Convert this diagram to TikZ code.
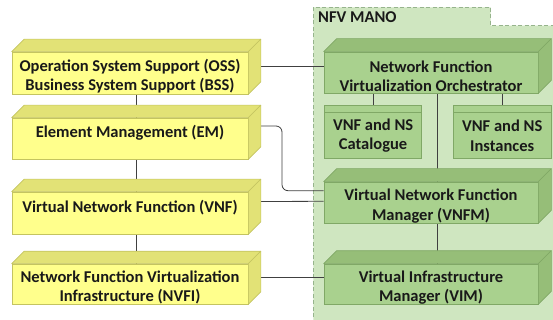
\documentclass[tikz,border=0pt]{standalone}
\usepackage{fontspec}
\setmainfont{Carlito}
\usetikzlibrary{calc}
\pgfdeclarelayer{back}
\pgfdeclarelayer{conn}
\pgfsetlayers{back,conn,main}
\definecolor{yfront}{RGB}{255,255,140}
\definecolor{yside}{RGB}{226,226,118}
\definecolor{yedge}{RGB}{196,196,96}
\definecolor{gfront}{RGB}{169,209,142}
\definecolor{gside}{RGB}{150,190,120}
\definecolor{gedge}{RGB}{128,168,102}
\definecolor{mano}{RGB}{207,230,192}
\definecolor{manoedge}{RGB}{150,180,140}
\definecolor{txt}{RGB}{25,25,25}
\tikzset{
  shell/.style={rectangle, inner sep=0pt, line width=0.6pt},
  ybox/.style={shell, fill=yfront, draw=yedge},
  gbox/.style={shell, fill=gfront, draw=gedge},
  label text/.style={inner sep=0pt, align=center, font=\bfseries\fontsize{16.5}{19.3}\selectfont, text=txt},
  yface/.style={fill=yside, draw=yedge, line width=0.6pt, line join=round},
  gface/.style={fill=gside, draw=gedge, line width=0.6pt, line join=round},
  conn/.style={draw=black!75, line width=0.8pt},
}
\newcommand{\boxfaces}[3]{% node, depth, style
  \path[#3] (#1.north west) -- (#1.north east) -- ++(#2,-#2) -- ($(#1.north west)+(#2,-#2)$) -- cycle;
  \path[#3] (#1.north east) -- (#1.south east) -- ++(#2,-#2) -- ($(#1.north east)+(#2,-#2)$) -- cycle;
}
\begin{document}
\begin{tikzpicture}[x=1pt,y=-1pt]
\useasboundingbox (0,0) rectangle (553,320);
\begin{pgfonlayer}{back}
\fill[white] (0,0) rectangle (553,320);
\path[fill=mano, draw=manoedge, line width=0.8pt, dash pattern=on 4pt off 2.5pt]
  (313.3,330) -- (313.3,7.3) -- (490.7,7.3) -- (490.7,25.7) -- (570,25.7) -- (570,330);
\end{pgfonlayer}
\node[label text, anchor=west] (manolabel) at (318,17) {NFV MANO};
% yellow boxes
\node[ybox, minimum width=236pt, minimum height=42pt] (oss) at (130,73) {};
\node[ybox, minimum width=236pt, minimum height=41pt] (em) at (130,138.5) {};
\node[ybox, minimum width=236pt, minimum height=42pt] (vnf) at (130,213) {};
\node[ybox, minimum width=236pt, minimum height=40pt] (nvfi) at (130,284) {};
\foreach \n in {oss,em,vnf,nvfi} {\boxfaces{\n}{12.5}{yface}}
\node[label text] (osst) at ($(oss.center)+(0,3.5)$) {Operation System Support (OSS)\\Business System Support (BSS)};
\node[label text] (emt) at ($(em.center)+(0,-5.3)$) {Element Management (EM)};
\node[label text] (vnft) at ($(vnf.center)+(0,-5.6)$) {Virtual Network Function (VNF)};
\node[label text] (nvfit) at ($(nvfi.center)+(0,3.5)$) {Network Function Virtualization\\Infrastructure (NVFI)};
% green boxes
\node[gbox, minimum width=214pt, minimum height=41pt] (nfvo) at (431,72.5) {};
\node[gbox, minimum width=214pt, minimum height=41pt] (vnfm) at (431,202.5) {};
\node[gbox, minimum width=214pt, minimum height=40pt] (vim) at (431,284) {};
\foreach \n in {nfvo,vnfm,vim} {\boxfaces{\n}{13}{gface}}
\node[label text] (nfvot) at ($(nfvo.center)+(0,3.7)$) {Network Function\\Virtualization Orchestrator};
\node[label text] (vnfmt) at ($(vnfm.center)+(0,3.5)$) {Virtual Network Function\\Manager (VNFM)};
\node[label text] (vimt) at ($(vim.center)+(0,3.5)$) {Virtual Infrastructure\\Manager (VIM)};
\node[gbox, minimum width=97pt, minimum height=53.3pt] (cat) at (373.1,131.7) {};
\node[gbox, minimum width=97.7pt, minimum height=53.3pt] (inst) at (502.2,131.7) {};
\draw[gedge, line width=0.6pt] ($(cat.north west)+(0,7.7)$) -- ($(cat.north east)+(0,7.7)$);
\draw[gedge, line width=0.6pt] ($(inst.north west)+(0,7.7)$) -- ($(inst.north east)+(0,7.7)$);
\node[label text] (catt) at ($(cat.center)+(0,4)$) {VNF and NS\\Catalogue};
\node[label text] (instt) at ($(inst.center)+(0,4)$) {VNF and NS\\Instances};
% connectors
\begin{pgfonlayer}{conn}
\draw[conn] ($(oss.east)+(12,-7)$) -- ($(nfvo.west)+(0,-6.5)$);
\draw[conn, rounded corners=6pt] ($(em.east)+(12,-12.5)$) -- (282,126) -- (282,190.7) -- ($(vnfm.west)+(0,-11.8)$);
\draw[conn] ($(vnf.east)+(12,-11.5)$) -- ($(vnfm.west)+(0,-1.2)$);
\draw[conn] ($(nvfi.east)+(12,-6.3)$) -- ($(vim.west)+(0,-6.3)$);
\draw[conn] ($(oss.south)+(6.25,0)$) -- ($(em.north)+(6.25,0)$);
\draw[conn] ($(em.south)+(6.25,0)$) -- ($(vnf.north)+(6.25,0)$);
\draw[conn] ($(vnf.south)+(6.25,0)$) -- ($(nvfi.north)+(6.25,0)$);
\draw[conn] (cat.north) -- (cat.north |- nfvo.south);
\draw[conn] (inst.north) -- (inst.north |- nfvo.south);
\draw[conn] ($(nfvo.south)+(6.5,0)$) -- ($(vnfm.north)+(6.5,0)$);
\draw[conn] ($(vnfm.south)+(6.5,0)$) -- ($(vim.north)+(6.5,0)$);
\end{pgfonlayer}
\end{tikzpicture}
\end{document}
